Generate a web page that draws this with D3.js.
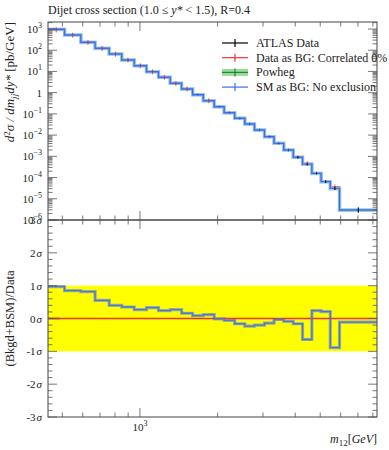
<!DOCTYPE html>
<html>
<head>
<meta charset="utf-8">
<script src="https://cdn.jsdelivr.net/npm/d3@7"></script>
<style>
body { margin: 0; background: #fff; }
svg text { font-family: "Liberation Serif", "DejaVu Serif", serif; fill: #222; }
</style>
</head>
<body>
<svg id="chart" width="389" height="450"></svg>
<script>
// ________ data ________
const binEdges = [440, 510, 590, 670, 760, 850, 950, 1060, 1180, 1310, 1450, 1600, 1760,
	1940, 2120, 2330, 2550, 2780, 3040, 3310, 3610, 3930, 4270, 4640, 5040, 5470, 5940, 8300];

// ATLAS data, pb/GeV
const dataVals = [968, 521, 236, 123, 66, 34.6, 18.6, 9.7, 5.3, 2.76, 1.49, 0.80, 0.418,
	0.218, 0.114, 0.062, 0.0334, 0.0174, 0.0084, 0.0041, 0.00199, 9.0e-4, 4.3e-4,
	1.58e-4, 6.4e-5, 3.1e-5, 2.95e-6];
const dataErr = [0.01, 0.01, 0.01, 0.01, 0.01, 0.01, 0.01, 0.01, 0.01, 0.01, 0.01, 0.01, 0.01,
	0.01, 0.01, 0.01, 0.02, 0.02, 0.02, 0.03, 0.04, 0.15, 0.12, 0.12, 0.15, 0.2, 0.35];
// Data as BG: Correlated 0%
const redVals = [900, 515, 232, 121, 65, 34.2, 18.4, 9.6, 5.25, 2.74, 1.48, 0.80, 0.417,
	0.218, 0.114, 0.062, 0.0334, 0.0174, 0.0084, 0.0041, 0.00199, 9.0e-4, 4.6e-4,
	1.58e-4, 6.4e-5, 3.6e-5, 2.95e-6];
// Powheg
const powhegVals = [950, 515, 234, 122, 65.5, 34.4, 18.5, 9.65, 5.28, 2.75, 1.48, 0.80, 0.418,
	0.218, 0.114, 0.062, 0.0334, 0.0174, 0.0084, 0.0041, 0.00199, 9.0e-4, 4.2e-4,
	1.55e-4, 6.3e-5, 3.0e-5, 2.9e-6];
// SM as BG: No exclusion
const smVals = [968, 521, 236, 123, 66, 34.6, 18.6, 9.7, 5.3, 2.76, 1.49, 0.80, 0.418,
	0.218, 0.114, 0.062, 0.0334, 0.0174, 0.0084, 0.0041, 0.00199, 9.0e-4, 4.3e-4,
	1.58e-4, 6.4e-5, 3.1e-5, 2.95e-6];

// (Bkgd+BSM)/Data in sigma
const smSigma = [0.97, 0.85, 0.82, 0.55, 0.40, 0.35, 0.27, 0.33, 0.24, 0.27, 0.16, 0.09, 0.12,
	-0.01, -0.06, -0.16, -0.23, -0.20, -0.14, -0.03, -0.09, -0.16, -0.64, 0.24, 0.21, -0.89, -0.11];
const redSigma = [0, 0, 0, 0, 0, 0, 0, 0, 0, 0, 0, 0, 0, 0, 0, 0, 0, 0, 0, 0, 0, 0, 0, 0, 0, 0, 0];

const yTopTicks = [1e-6, 1e-5, 1e-4, 1e-3, 1e-2, 1e-1, 1, 10, 100, 1000];
const sigmaTicks = [-3, -2, -1, 0, 1, 2, 3];
const xMajor = [1000];

const legendItems = [
	{label: 'ATLAS Data', color: '#000'},
	{label: 'Data as BG: Correlated 0%', color: '#ee3333'},
	{label: 'Powheg', color: '#1a8a2a', band: '#9fd89f'},
	{label: 'SM as BG: No exclusion', color: '#3a6fe8'}
];

// ________ layout ________
const L = 48, R = 377, T = 22, M = 220, B = 417;
const svg = d3.select('#chart');

const x = d3.scaleLog().domain([binEdges[0], binEdges[binEdges.length - 1]]).range([L, R]);
const yTop = d3.scaleLog().domain([1e-6, Math.pow(10, 3.33)]).range([M, T]);
const yBot = d3.scaleLinear().domain([-3, 3]).range([B, M]);

const bins = binEdges.slice(0, -1).map((lo, i) => ({lo, hi: binEdges[i + 1], i}));

function stepPath(vals, y) {
	let p = '';
	bins.forEach((b, i) => {
		const yy = y(vals[i]);
		p += (i === 0 ? 'M' : 'L') + x(b.lo) + ',' + yy + 'L' + x(b.hi) + ',' + yy;
	});
	return p;
}
const center = b => Math.sqrt(b.lo * b.hi);

// ________ ratio panel ________
svg.append('rect')
	.attr('x', L).attr('width', R - L)
	.attr('y', yBot(1)).attr('height', yBot(-1) - yBot(1))
	.attr('fill', '#ffff00');
svg.append('path').attr('d', stepPath(smSigma, yBot))
	.attr('fill', 'none').attr('stroke', '#9fae8a').attr('stroke-width', 3.2);
svg.append('path').attr('d', 'M' + L + ',' + yBot(0) + 'L' + (L + 12) + ',' + yBot(0))
	.attr('stroke', '#333').attr('stroke-width', 1.5);
svg.append('path').attr('d', stepPath(redSigma, yBot))
	.attr('fill', 'none').attr('stroke', '#ee3333').attr('stroke-width', 1.3);
svg.append('path').attr('d', stepPath(smSigma, yBot))
	.attr('fill', 'none').attr('stroke', '#4a7bd0').attr('stroke-width', 1.3);

// ________ main panel ________
const mainG = svg.append('g');
mainG.append('path').attr('d', stepPath(powhegVals, yTop))
	.attr('fill', 'none').attr('stroke', '#a8dca8').attr('stroke-width', 3.5);
mainG.append('path').attr('d', stepPath(redVals, yTop))
	.attr('fill', 'none').attr('stroke', '#ee3333').attr('stroke-width', 1.5);
mainG.append('path').attr('d', stepPath(smVals, yTop))
	.attr('fill', 'none').attr('stroke', '#9dbdf5').attr('stroke-width', 3);
mainG.append('path').attr('d', stepPath(smVals, yTop))
	.attr('fill', 'none').attr('stroke', '#3a6fe8').attr('stroke-width', 1.4);
// small markers on model curves
mainG.selectAll('.smtick').data(bins).join('line')
	.attr('x1', d => x(center(d))).attr('x2', d => x(center(d)))
	.attr('y1', d => yTop(smVals[d.i]) - 1.5).attr('y2', d => yTop(smVals[d.i]) + 1.5)
	.attr('stroke', '#3a6fe8').attr('stroke-width', 0.8);
mainG.selectAll('.redtick').data(bins.filter(d => redVals[d.i] !== smVals[d.i])).join('line')
	.attr('x1', d => x(center(d))).attr('x2', d => x(center(d)))
	.attr('y1', d => yTop(redVals[d.i]) - 2.5).attr('y2', d => yTop(redVals[d.i]) + 2.5)
	.attr('stroke', '#ee3333').attr('stroke-width', 0.8);
// data error bars
mainG.selectAll('.err').data(bins).join('line')
	.attr('x1', d => x(center(d))).attr('x2', d => x(center(d)))
	.attr('y1', d => yTop(dataVals[d.i] * (1 + dataErr[d.i])))
	.attr('y2', d => yTop(dataVals[d.i] / (1 + dataErr[d.i])))
	.attr('stroke', '#000').attr('stroke-width', 1);

// ________ frames and ticks ________
const frame = g => g.attr('fill', 'none').attr('stroke', '#444').attr('stroke-width', 1);
svg.append('rect').attr('x', L).attr('y', T).attr('width', R - L).attr('height', M - T).call(frame);
svg.append('rect').attr('x', L).attr('y', M).attr('width', R - L).attr('height', B - M).call(frame);

const tickG = svg.append('g').attr('stroke', '#555').attr('stroke-width', 0.8);
function tick(x1, y1, x2, y2) {
	tickG.append('line').attr('x1', x1).attr('y1', y1).attr('x2', x2).attr('y2', y2);
}
// x ticks on all horizontal edges
const xTicks = x.ticks().filter(v => v > binEdges[0] && v < binEdges[binEdges.length - 1]);
xTicks.forEach(v => {
	const len = xMajor.includes(v) ? 9 : 4.5;
	const px = x(v);
	tick(px, T, px, T + len);
	tick(px, M, px, M - len);
	tick(px, M, px, M + len);
	tick(px, B, px, B - len);
});
// top y ticks (log, major + minor)
for (let e = -6; e <= 3; e++) {
	for (let k = 1; k <= 9; k++) {
		const v = k * Math.pow(10, e);
		if (v > yTop.domain()[1]) continue;
		const py = yTop(v);
		const len = k === 1 ? 9 : 4.5;
		tick(L, py, L + len, py);
		tick(R, py, R - len, py);
	}
}
// ratio y ticks
d3.range(-3, 3.001, 0.2).forEach(v => {
	const major = Math.abs(v - Math.round(v)) < 1e-6;
	const py = yBot(v);
	const len = major ? 9 : 4.5;
	tick(L, py, L + len, py);
	tick(R, py, R - len, py);
});

// ________ labels ________
const fs = 11;
yTopTicks.forEach(v => {
	const e = Math.round(Math.log10(v));
	const t = svg.append('text').attr('x', 42).attr('y', yTop(v) + 4)
		.attr('text-anchor', 'end').attr('font-size', fs);
	if (e === 0) { t.text('1'); return; }
	t.append('tspan').text('10');
	t.append('tspan').attr('dy', -5).attr('font-size', 8).text(e < 0 ? '\u2212' + (-e) : e);
});
sigmaTicks.forEach(v => {
	const t = svg.append('text').attr('x', 42).attr('y', yBot(v) + 4)
		.attr('text-anchor', 'end').attr('font-size', fs);
	t.append('tspan').text((v < 0 ? '-' : '') + Math.abs(v));
	t.append('tspan').attr('font-style', 'italic').attr('dx', 1).text('\u03c3');
});
// x tick label
const xl = svg.append('text').attr('x', x(1000)).attr('y', 431)
	.attr('text-anchor', 'middle').attr('font-size', fs);
xl.append('tspan').text('10');
xl.append('tspan').attr('dy', -5).attr('font-size', 8).text('3');

// axis titles
const xt = svg.append('text').attr('x', R).attr('y', 443).attr('text-anchor', 'end').attr('font-size', 12);
xt.append('tspan').attr('font-style', 'italic').text('m');
xt.append('tspan').attr('dy', 3).attr('font-size', 9).text('12');
xt.append('tspan').attr('dy', -3).text('[');
xt.append('tspan').attr('font-style', 'italic').text('GeV');
xt.append('tspan').text(']');

const yt = svg.append('text').attr('transform', 'translate(14,' + T + ') rotate(-90)')
	.attr('text-anchor', 'end').attr('font-size', 13);
yt.append('tspan').attr('font-style', 'italic').text('d');
yt.append('tspan').attr('dy', -4).attr('font-size', 9).text('2');
yt.append('tspan').attr('dy', 4).attr('font-style', 'italic').text('\u03c3 / dm');
yt.append('tspan').attr('dy', 3).attr('font-size', 9).attr('font-style', 'italic').text('jj');
yt.append('tspan').attr('dy', -3).attr('font-style', 'italic').text('dy*');
yt.append('tspan').text(' [pb/GeV]');

svg.append('text').attr('transform', 'translate(14,' + yBot(0) + ') rotate(-90)')
	.attr('text-anchor', 'middle').attr('font-size', 12.5).text('(Bkgd+BSM)/Data');

// title
const ti = svg.append('text').attr('x', L).attr('y', 14).attr('font-size', 12);
ti.append('tspan').text('Dijet cross section (1.0 \u2264 ');
ti.append('tspan').attr('font-style', 'italic').text('y*');
ti.append('tspan').text(' < 1.5), R=0.4');

// legend
const lg = svg.append('g');
legendItems.forEach((d, i) => {
	const ly = 43 + i * 14.7;
	if (d.band) {
		lg.append('rect').attr('x', 222).attr('y', ly - 3.5).attr('width', 26).attr('height', 7).attr('fill', d.band);
	}
	lg.append('line').attr('x1', 222).attr('x2', 248).attr('y1', ly).attr('y2', ly)
		.attr('stroke', d.color).attr('stroke-width', 1.2);
	lg.append('line').attr('x1', 235).attr('x2', 235).attr('y1', ly - 4).attr('y2', ly + 4)
		.attr('stroke', d.color).attr('stroke-width', 1.2);
	lg.append('text').attr('x', 256).attr('y', ly + 4).attr('font-size', 12).text(d.label);
});
</script>
</body>
</html>
